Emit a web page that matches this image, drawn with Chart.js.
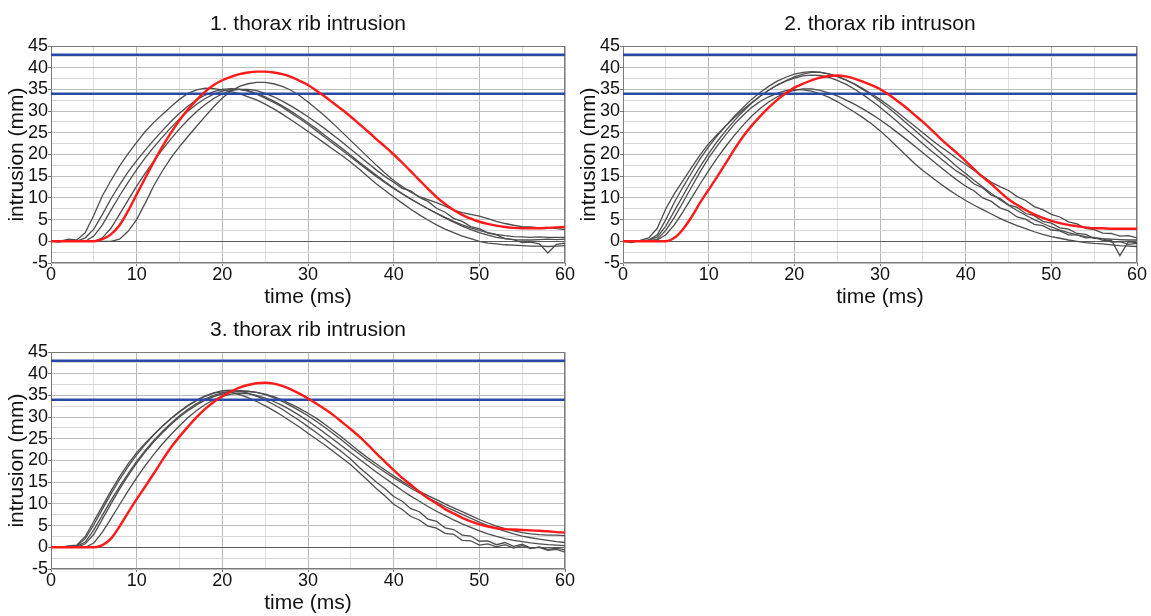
<!DOCTYPE html>
<html><head><meta charset="utf-8">
<script src="https://cdn.jsdelivr.net/npm/chart.js@4"></script>
<style>
html,body{margin:0;padding:0;background:#fff;}
#wrap{position:relative;width:1151px;height:616px;overflow:hidden;background:#fff;}
canvas{position:absolute;left:0;top:0;}
</style></head><body>
<div id="wrap">
<canvas id="c1" width="1151" height="616"></canvas>
<canvas id="c2" width="1151" height="616"></canvas>
<canvas id="c3" width="1151" height="616"></canvas>
</div>
<script>
// ---- data (time in ms, intrusion in mm) ----
const time = [0,1,2,3,4,5,6,7,8,9,10,11,12,13,14,15,16,17,18,19,20,21,22,23,24,25,26,27,28,29,30,31,32,33,34,35,36,37,38,39,40,41,42,43,44,45,46,47,48,49,50,51,52,53,54,55,56,57,58,59,60];
const limitTimes = [0, 60];
const limits = [43, 34];
const panelTitles = ['1. thorax rib intrusion', '2. thorax rib intruson', '3. thorax rib intrusion'];
const xAxisTitle = 'time (ms)';
const yAxisTitle = 'intrusion (mm)';

// panel 1
const p1Red = [0,0,0,0,0,0,0.5,1.6,3.7,7,10.8,14.6,18.3,21.8,25,27.9,30.4,32.6,34.5,36,37.1,37.9,38.5,38.9,39.1,39.1,38.9,38.5,37.9,37,36,34.7,33.3,31.8,30.3,28.7,27,25.3,23.5,21.8,20,18.1,16.1,14.1,12.1,10.2,8.6,7.2,6.1,5.2,4.5,4,3.6,3.3,3.1,3,3,3,3.1,3.2,3.3];
const p1G1 = [0,-0.2,0.5,0.3,2,6,10.5,14,17.3,20.2,22.8,25.3,27.4,29.2,31,32.7,34.1,34.9,35.3,35.2,34.9,34.5,34,33.3,32.6,31.6,30.5,29.3,28,26.7,25.3,23.9,22.5,21.1,19.7,18.2,16.6,14.9,13.2,11.7,10.2,8.8,7.4,6.1,4.9,3.8,2.8,2,1.2,0.6,0,-0.4,-0.6,-0.8,-0.9,-1,-1.1,-1.1,-1.2,-1.1,-1];
const p1G2 = [0,0.1,0.3,0,0.8,2.8,6.2,9.8,13,16,18.6,21,23.3,25.5,27.6,29.5,31.2,32.6,33.7,34.5,35,35.2,35,34.6,33.9,33,32,30.9,29.6,28.3,26.9,25.4,23.9,22.4,20.9,19.4,17.9,16.4,14.9,13.5,12.2,10.9,9.7,8.6,7.5,6.5,5.5,4.6,3.8,3.1,2.5,2,1.6,1.3,1.1,1,0.9,1,0.9,0.9,0.9];
const p1G3 = [0,0,0,0.1,0,1.2,3.8,7.2,10.5,13.6,16.5,19.2,21.7,24,26.2,28.2,30,31.6,32.9,33.9,34.6,35,35,34.7,34.1,33.3,32.3,31.2,30,28.7,27.3,25.9,24.4,22.9,21.4,19.8,18.2,16.7,15.2,13.7,12.3,11,9.8,8.6,7.5,6.4,5.4,4.4,3.5,2.7,2,1.4,0.9,0.6,0.4,0.3,0.3,0.4,0.5,0.4,0.5];
const p1G4 = [0,0,0,0,0,0,0.8,3,6.2,9.5,12.7,15.7,18.5,21.1,23.6,25.9,28,29.9,31.5,32.9,34,34.7,35,35,34.7,34.1,33.3,32.3,31.2,30,28.7,27.3,25.9,24.4,22.8,21.2,19.6,18,16.4,14.9,13.6,12.2,11.6,10.1,9.2,7.6,6.7,5.3,4.6,3.4,2.9,1.9,1.5,0.6,0.4,-0.3,-0.2,-0.6,-2.7,-0.7,-0.4];
const p1G5 = [0,0,0,0,0,0,0,0,0.5,2.3,5,8.8,12.8,16.2,19.2,21.8,24.2,26.5,28.8,31,33,34.6,35.7,36.3,36.6,36.6,36.3,35.7,34.8,33.6,32.1,30.5,28.8,27,25.1,23.2,21.3,19.4,17.5,15.7,14,12.6,11.3,10.3,9.6,8.9,8.1,7.2,6.6,6.2,5.8,5.2,4.6,4.1,3.7,3.4,3.3,3.1,3.2,2.9,2.7];

// panel 2
const p2Red = [0,0,0,0,0,0,0.8,2.8,5.6,8.9,11.9,14.9,18,21.2,24.1,26.6,28.8,30.8,32.6,34.1,35.4,36.3,37.1,37.7,38.1,38.2,38,37.5,36.8,36,35.1,33.8,32.4,30.9,29.2,27.5,25.7,23.8,22,20.3,18.5,16.6,14.8,13.2,11.4,9.7,8.4,7.2,6.2,5.4,4.7,4.2,3.8,3.5,3.2,3,3,2.9,2.9,2.9,2.9];
const p2G1 = [0,-0.3,0.2,0.8,3,7.5,11,14,17,19.9,22.5,24.6,26.6,28.5,30.3,31.9,33.4,34.8,36,37,37.9,38.5,38.9,38.9,38.6,38,37.2,36.2,35,33.7,32.2,30.7,29.1,27.4,25.7,24,22.3,20.6,18.9,17.2,15.6,14,12.5,11,9.6,8.3,7.1,6,5,4.1,3.3,2.6,2,1.5,1.1,0.8,0.6,0.5,0.4,0.3,0.3];
const p2G2 = [0,0,0.1,0.3,1.5,5,9,12.5,15.8,19,21.8,24.3,26.6,28.8,30.8,32.7,34.3,35.7,36.9,37.8,38.5,38.9,39.1,39,38.6,38,37.2,36.3,35.2,34,32.7,31.3,29.8,28.2,26.6,25,23.4,21.9,20.5,19,17.7,16.3,15,13.6,12.6,11.7,10.3,9.4,8,7.3,6.2,5.6,4.5,4,3,2.7,1.9,1.8,1.2,1.3,0.8];
const p2G3 = [0,0,0,0.2,1,3.5,7,10.5,14,17.2,20.2,23,25.5,27.8,29.9,31.8,33.4,34.8,36,36.9,37.6,38.1,38.3,38.2,37.8,37.1,36.2,35.1,33.8,32.4,30.9,29.3,27.6,25.9,24.2,22.5,20.8,19.2,17.6,16.1,14.9,13.2,12.3,10.6,9.9,8.4,7.8,6.4,5.9,4.6,4.2,3.1,2.8,1.8,1.6,0.7,0.6,-0.2,-0.1,-0.7,-0.5];
const p2G4 = [0,0,0,0,0.5,2.5,5.5,9,12.5,16,19.2,22,24.6,27,29,30.8,32.2,33.3,34.1,34.7,35,34.9,34.6,34,33.2,32.2,31,29.8,28.5,27.1,25.5,23.7,21.8,19.9,18,16.3,14.8,13.3,11.9,10.6,9.4,8.3,7.3,6.3,5.3,4.4,3.6,2.9,2.2,1.6,1.1,0.7,0.3,0,-0.3,-0.5,-0.6,-0.8,-1,-1.1,-1.2];
const p2G5 = [0,0,0,0,0.3,1.5,3.8,6.8,10,13.2,16.3,19.2,21.9,24.4,26.7,28.8,30.6,32.1,33.3,34.2,34.8,35.1,35.1,34.8,34.2,33.5,32.6,31.6,30.5,29.3,28,26.6,25.1,23.6,22,20.4,18.8,17.2,15.6,14.1,12.7,11.6,10,9.2,7.7,7,5.6,5.1,3.9,3.6,2.6,2.4,1.5,1.5,0.8,0.9,0.2,0.3,-3.3,-0.1,-0.3];

// panel 3
const p3Red = [0,0,0,0,0,0,0.5,2,4.8,8,11.1,14,17,20.1,23,25.5,27.8,30,31.9,33.5,34.8,35.9,36.8,37.4,37.8,37.9,37.7,37.2,36.4,35.4,34.3,33.1,31.8,30.4,28.8,27.2,25.5,23.6,21.6,19.7,17.8,16,14.4,12.8,11.3,10.1,8.8,7.8,6.8,6,5.3,4.8,4.4,4.2,4.1,4,3.9,3.8,3.7,3.5,3.4];
const p3G1 = [0.2,0,0.3,0.5,2.5,6,9.5,13,16.3,19.2,21.8,24,26,27.9,29.6,31.2,32.6,33.8,34.8,35.5,35.8,35.7,35.2,34.5,33.6,32.6,31.5,30.3,29,27.7,26.3,24.9,23.5,22,20.5,19,17.2,15.4,13.5,11.8,9.9,8.7,7.1,6.3,4.9,4.4,3.2,3,1.6,1.5,0.5,0.8,0.1,0.6,-0.2,0.4,-0.3,0.1,-0.5,-0.2,-0.6];
const p3G2 = [0,0,0,0.3,2,5.2,8.8,12.3,15.6,18.6,21.3,23.7,25.9,27.9,29.7,31.3,32.7,33.9,34.9,35.6,36.1,36.2,36,35.5,34.8,33.9,32.9,31.8,30.5,29.2,27.8,26.4,24.9,23.4,21.9,20.3,18.4,16.7,15,13.5,11.7,10.6,8.9,8.2,6.5,6,4.5,4.1,2.8,2.6,1.4,1.5,0.6,1.1,0.2,0.7,-0.2,0,-0.7,-0.5,-1.1];
const p3G3 = [0,0,0,0.2,1.2,4,7.4,10.8,14,17,19.8,22.3,24.6,26.7,28.6,30.3,31.8,33.1,34.2,35,35.6,36,36.1,36,35.7,35.2,34.5,33.6,32.6,31.5,30.3,29,27.6,26.1,24.6,23,21.5,20,18.6,17.3,16,14.8,13.6,12.5,11.4,10.4,9.4,8.5,7.6,6.7,5.8,5,4.3,3.7,3.1,2.6,2.2,1.9,1.6,1.3,1.1];
const p3G4 = [0,0,0,0,0.8,3,6.5,10,13.4,16.5,19.4,22,24.3,26.4,28.3,30,31.5,32.8,33.9,34.7,35.3,35.7,35.9,35.9,35.7,35.3,34.7,33.9,33,32,30.9,29.7,28.3,26.8,25.3,23.7,22.1,20.6,19.2,17.8,16.5,15.2,14,12.9,11.9,11,10,9.1,8.2,7.3,6.4,5.6,4.9,4.3,3.8,3.4,3.1,2.9,2.8,2.8,2.7];
const p3G5 = [0,0,0,0,0,1,3.5,6.6,9.8,13,16,18.8,21.4,23.8,26,28,29.9,31.5,32.9,34,34.8,35.3,35.5,35.4,35,34.4,33.6,32.7,31.6,30.4,29.1,27.7,26.3,24.8,23.3,21.8,20.3,18.8,17.3,15.9,14.5,13.1,11.8,10.6,9.4,8.3,7.3,6.3,5.4,4.6,3.8,3.1,2.5,2,1.6,1.3,1,0.8,0.6,0.5,0.4];

// ---- drawing ----
const FONT = "'Liberation Sans', Arial, sans-serif";
Chart.defaults.font.family = FONT;

function onStep(v, step) { const r = v / step; return Math.abs(r - Math.round(r)) < 1e-6; }

const framePlugin = {
  id: 'frame',
  beforeDatasetsDraw(chart) {
    const { ctx, chartArea: a } = chart;
    ctx.save();
    ctx.strokeStyle = '#7a7a7a';
    ctx.lineWidth = 1;
    ctx.strokeRect(Math.round(a.left) + 0.5, Math.round(a.top) + 0.5, Math.round(a.right - a.left) - 1, Math.round(a.bottom - a.top) - 1);
    ctx.restore();
  }
};

function series(values) { return time.map((t, i) => ({ x: t, y: values[i] })); }

function buildChart(id, title, red, grays, pad) {
  const datasets = [];
  datasets.push({ data: series(red), borderColor: '#ff1a1a', borderWidth: 2.4, order: 0, cubicInterpolationMode: 'monotone' });
  limits.forEach(v => datasets.push({ data: limitTimes.map(t => ({ x: t, y: v })), borderColor: '#2a48a6', borderWidth: 2.6, order: 1 }));
  grays.forEach(g => datasets.push({ data: series(g), borderColor: '#4d4d4d', borderWidth: 1.3, order: 2 }));
  return new Chart(document.getElementById(id), {
    type: 'line',
    data: { datasets },
    options: {
      responsive: false,
      animation: false,
      events: [],
      layout: { padding: pad },
      elements: { point: { radius: 0 }, line: { tension: 0, fill: false } },
      plugins: {
        legend: { display: false },
        tooltip: { enabled: false },
        title: {
          display: true, text: title, fullSize: false, color: '#111',
          font: { family: FONT, size: 21, weight: 'normal', lineHeight: 1.2 },
          padding: { top: 11.6, bottom: 9.2 }
        }
      },
      scales: {
        x: {
          type: 'linear', min: 0, max: 60,
          border: { display: false },
          ticks: { stepSize: 5, autoSkip: false, maxRotation: 0, color: '#111', padding: 0,
            font: { family: FONT, size: 18, lineHeight: 1 },
            callback: v => onStep(v, 10) ? String(v) : '' },
          grid: { lineWidth: 1, tickLength: 3,
            color: c => onStep(c.tick.value, 10) ? '#b9b9b9' : '#dedede',
            tickColor: c => onStep(c.tick.value, 10) ? '#777' : 'rgba(0,0,0,0)' },
          title: { display: true, text: xAxisTitle, color: '#111', font: { family: FONT, size: 21, lineHeight: 1.2 }, padding: 0 },
          afterFit: s => { s.height = 47; s.paddingLeft = 0; s.paddingRight = 0; }
        },
        y: {
          min: -5, max: 45,
          border: { display: false },
          ticks: { stepSize: 2.5, autoSkip: false, color: '#111', padding: 0,
            font: { family: FONT, size: 18 },
            callback: v => onStep(v, 5) ? String(v) : '' },
          grid: { lineWidth: 1, tickLength: 3,
            color: c => Math.abs(c.tick.value) < 1e-6 ? '#5a5a5a' : (onStep(c.tick.value, 5) ? '#bdbdbd' : '#d6d6d6'),
            tickColor: c => onStep(c.tick.value, 5) ? '#777' : 'rgba(0,0,0,0)' },
          title: { display: true, text: yAxisTitle, color: '#111', font: { family: FONT, size: 21, lineHeight: 1.2 }, padding: { top: 5, bottom: 0 } },
          afterFit: s => { s.width = 51; s.paddingTop = 0; s.paddingBottom = 0; }
        }
      }
    },
    plugins: [framePlugin]
  });
}

buildChart('c1', panelTitles[0], p1Red, [p1G1, p1G2, p1G3, p1G4, p1G5], { left: 0, top: 0, right: 586, bottom: 306 });
buildChart('c2', panelTitles[1], p2Red, [p2G1, p2G2, p2G3, p2G4, p2G5], { left: 572, top: 0, right: 14, bottom: 306 });
buildChart('c3', panelTitles[2], p3Red, [p3G1, p3G2, p3G3, p3G4, p3G5], { left: 0, top: 306, right: 586, bottom: 0 });
</script>
</body></html>
